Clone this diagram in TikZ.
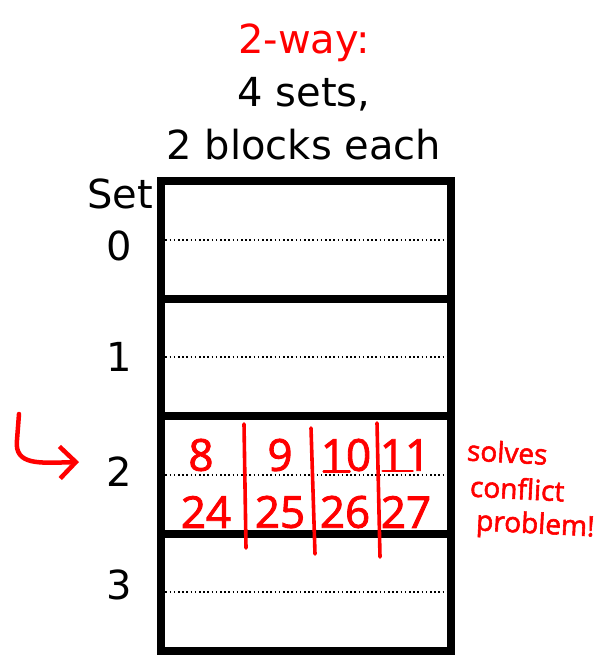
\documentclass[tikz,border=0pt]{standalone}
\usepackage{fontspec}
\setmainfont{DejaVu Sans}
\newfontfamily\handfont[FakeBold=2]{Open Sans}
\usetikzlibrary{positioning,arrows.meta}

\begin{document}
\begin{tikzpicture}[x=1pt, y=-1pt,
    setrow/.style={rectangle, draw, line width=8pt, minimum width=290pt, minimum height=117.5pt, inner sep=0pt},
    setlabel/.style={font=\fontsize{40}{40}\selectfont, inner sep=0pt},
    way/.style={dash pattern=on 1.6pt off 2.6pt, line width=1.6pt},
    ink/.style={red, line width=3.6pt, line cap=round, line join=round},
    blk/.style={font=\handfont\fontsize{44}{44}\selectfont, text=red, inner sep=0pt},
    remark/.style={font=\handfont\fontsize{28}{28}\selectfont, text=red, inner sep=0pt, anchor=west, rotate=-3}
]
\useasboundingbox (0,0) rectangle (607,655);

% Title
\node [font=\fontsize{40}{53}\selectfont, align=center, inner sep=0pt] (title) at (304,92)
    {\textcolor{red}{2-way:}\\4 sets,\\2 blocks each};

% Sets, each split into two ways
\node [setrow] (set0) at (306,239.75) {};
\node [setrow] (set1) at (306,357.25) {};
\node [setrow] (set2) at (306,474.75) {};
\node [setrow] (set3) at (306,592.25) {};
\foreach \s in {0,1,2,3}
    \draw [way] (set\s.west) -- (set\s.east);

% Set labels
\node [setlabel, anchor=east] (sethdr) at (153,194) {Set};
\node [setlabel, left=25pt of set0, yshift=-6pt] (lbl0) {0};
\node [setlabel, left=25pt of set1] (lbl1) {1};
\node [setlabel, left=25pt of set2, yshift=3pt] (lbl2) {2};
\node [setlabel, left=25pt of set3, yshift=7pt] (lbl3) {3};

% Blocks mapped to set 2
\node [blk] (b8)  at (201,455) {8};
\node [blk] (b9)  at (280,455) {9};
\node [blk] (b10) at (346,455) {10};
\node [blk] (b11) at (405,455) {11};
\node [blk] (b24) at (206,512) {24};
\node [blk] (b25) at (280,512) {25};
\node [blk] (b26) at (345,512) {26};
\node [blk] (b27) at (406,512) {27};
\draw [ink, line width=2.6pt] (b10.south west) ++(3,0) -- ++(26,0);
\draw [ink, line width=2.6pt] (b11.south west) ++(3,0) -- ++(30,0);

% Hand-drawn dividers
\draw [ink] (244,424) -- (246,548);
\draw [ink] (311,428) -- (315,554);
\draw [ink] (377,423) -- (380,557);

% Pointer to set 2
\coordinate (hookstart) at (19,414);
\coordinate (hookend) at (79,462);
\draw [ink, line width=4.5pt, -{Straight Barb[length=16pt, width=32pt, line width=4.5pt]}]
    (hookstart) -- (17,440) .. controls (14,466) and (40,463) .. (hookend);

% Note
\node [remark] (note1) at (467,450) {solves};
\node [remark] (note2) at (470,486) {conflict};
\node [remark] (note3) at (476,523) {problem!};
\end{tikzpicture}
\end{document}
